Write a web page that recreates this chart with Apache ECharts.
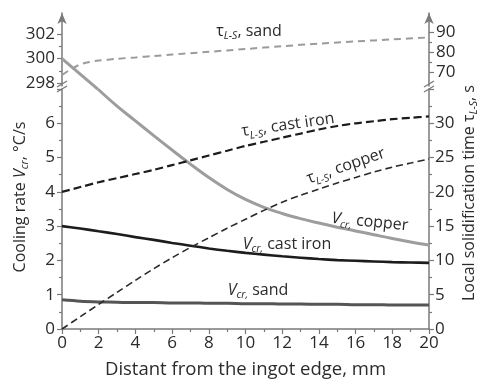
<!DOCTYPE html>
<html><head><meta charset="utf-8">
<script src="https://cdn.jsdelivr.net/npm/echarts@6/dist/echarts.min.js"></script>
<style>html,body{margin:0;padding:0;background:#fff}#c{width:482px;height:384px}</style>
</head><body><div id="c"></div>
<script>
// ---- data ----
const distance = [0,1,2,3,4,5,6,7,8,9,10,11,12,13,14,15,16,17,18,19,20];
const vcCastIron = [3.0,2.93,2.85,2.77,2.68,2.6,2.51,2.43,2.35,2.28,2.22,2.17,2.12,2.08,2.04,2.01,1.99,1.97,1.95,1.94,1.93];
const vcSand = [0.85,0.81,0.79,0.78,0.77,0.77,0.76,0.76,0.75,0.75,0.74,0.74,0.73,0.73,0.72,0.72,0.71,0.71,0.70,0.70,0.70];
const tauCastIron = [20,20.7,21.4,22.0,22.6,23.2,23.9,24.6,25.3,26.0,26.7,27.3,27.9,28.5,29.1,29.6,30.0,30.3,30.6,30.8,31.0];
const tauCopper = [0,1.8,3.6,5.35,7.1,8.8,10.4,11.9,13.3,14.7,16.0,17.3,18.5,19.5,20.4,21.3,22.1,22.9,23.6,24.2,24.8];
const vcCopperUpperX = [0,1.95];
const vcCopperUpper = [300,297.51];
const vcCopperLowerX = [1.95,3,4,5,6,7,8,9,10,11,12,13,14,15,16,17,18,19,20];
const vcCopperLower = [7.0,6.5,6.07,5.64,5.22,4.81,4.42,4.07,3.78,3.55,3.37,3.22,3.09,2.97,2.86,2.75,2.64,2.54,2.45];
const tauSandX = [0,0.5,1,1.5,2,3,4,5,6,8,10,12,14,16,18,20];
const tauSand = [68.5,71.5,73.8,75.0,75.7,76.6,77.3,78.0,78.7,80.1,81.5,82.9,84.2,85.3,86.3,87.3];
const upperLeftTicks = [298,300,302];
const upperLeftMinor = [299,301];
const upperRightTicks = [70,80,90];
const upperRightMinor = [75,85];

const pair = (xs, ys) => xs.map((x, i) => [x, ys[i]]);
const FONT = '"Open Sans", "Noto Sans", sans-serif';
const AX = '#7a7a7a', TXT = '#2b2b2b';
const lineAx = { show: true, lineStyle: { color: AX, width: 1.5 } };
const lbl = { color: TXT, fontSize: 17, fontFamily: FONT };

const chart = echarts.init(document.getElementById('c'), null, { renderer: 'canvas' });

const G = { top: 13, hTop: 73, top2: 89, h2: 243, left: 62, right: 53 };

function upperAxis(pos, min, max, labels, ticks, showLine, tickLen, symbol) {
  return {
    gridIndex: 0, type: 'value', position: pos, min, max,
    axisLine: showLine ? { show: true, symbol: symbol, symbolSize: [7, 11], lineStyle: { color: AX, width: 1.5 } } : { show: false },
    axisTick: { show: true, inside: false, length: tickLen, lineStyle: { color: AX, width: 1.2 }, customValues: ticks },
    axisLabel: labels ? Object.assign({ customValues: labels, margin: 7 }, lbl) : { show: false },
    splitLine: { show: false }
  };
}

const rich = {
  g: { fontSize: 16, fontFamily: FONT, fill: TXT, lineHeight: 22, verticalAlign: 'middle' },
  i: { fontSize: 16, fontFamily: FONT, fontStyle: 'italic', fill: TXT, lineHeight: 22, verticalAlign: 'middle' },
  s: { fontSize: 10.5, fontFamily: FONT, fontStyle: 'italic', fill: TXT, lineHeight: 14, verticalAlign: 'bottom' },
  t: { fontSize: 16, fontFamily: FONT, fill: TXT, lineHeight: 22, verticalAlign: 'middle' }
};
function label(x, y, text, rot) {
  return { type: 'text', x, y, rotation: rot || 0, z: 100,
    style: { text, rich, align: 'center', verticalAlign: 'middle', fill: TXT, font: '16px ' + FONT } };
}
function brk(x, y) {
  return [
    { type: 'line', z: 100, shape: { x1: x - 5, y1: y + 1, x2: x + 5, y2: y - 5 }, style: { stroke: AX, lineWidth: 1.4 } },
    { type: 'line', z: 100, shape: { x1: x - 5, y1: y + 6, x2: x + 5, y2: y }, style: { stroke: AX, lineWidth: 1.4 } }
  ];
}

const option = {
  animation: false,
  backgroundColor: '#fff',
  grid: [
    { left: G.left, right: G.right, top: G.top, height: G.hTop },
    { left: G.left, right: G.right, top: G.top2, height: G.h2 }
  ],
  xAxis: [
    { gridIndex: 0, type: 'value', min: 0, max: 20, show: false },
    { gridIndex: 1, type: 'value', min: 0, max: 20, interval: 2,
      axisLine: Object.assign({ onZero: false }, lineAx),
      axisTick: { show: true, length: 5, lineStyle: { color: AX, width: 1.2 } },
      minorTick: { show: true, splitNumber: 2, length: 3, lineStyle: { color: AX, width: 1.2 } },
      axisLabel: Object.assign({ margin: 6 }, lbl),
      splitLine: { show: false },
      name: 'Distant from the ingot edge, mm', nameLocation: 'middle', nameGap: 31,
      nameTextStyle: { color: TXT, fontSize: 18.5, fontFamily: FONT } }
  ],
  yAxis: [
    upperAxis('left', 297.76, 303.71, upperLeftTicks, upperLeftTicks, true, 5, ['none', 'arrow']),
    upperAxis('right', 63, 99.5, upperRightTicks, upperRightTicks, true, 5, ['none', 'arrow']),
    { gridIndex: 1, type: 'value', position: 'left', min: 0, max: 7, interval: 1,
      axisLine: lineAx,
      axisTick: { show: true, length: 5, lineStyle: { color: AX, width: 1.2 } },
      minorTick: { show: true, splitNumber: 2, length: 3, lineStyle: { color: AX, width: 1.2 } },
      axisLabel: Object.assign({ margin: 7, formatter: v => (v >= 7 ? '' : String(v)) }, lbl),
      splitLine: { show: false } },
    { gridIndex: 1, type: 'value', position: 'right', min: 0, max: 35, interval: 5,
      axisLine: lineAx,
      axisTick: { show: true, length: 5, lineStyle: { color: AX, width: 1.2 } },
      minorTick: { show: true, splitNumber: 2, length: 3, lineStyle: { color: AX, width: 1.2 } },
      axisLabel: Object.assign({ margin: 6, formatter: v => (v >= 35 ? '' : String(v)) }, lbl),
      splitLine: { show: false } },
    upperAxis('left', 297.76, 303.71, null, upperLeftMinor, false, 3),
    upperAxis('right', 63, 99.5, null, upperRightMinor, false, 3)
  ],
  series: [
    { name: 'tau sand', type: 'line', xAxisIndex: 0, yAxisIndex: 1, data: pair(tauSandX, tauSand),
      symbol: 'none', smooth: 0.3, lineStyle: { color: '#9b9b9b', width: 2, type: [7, 5] } },
    { name: 'Vcr copper upper', type: 'line', xAxisIndex: 0, yAxisIndex: 0, data: pair(vcCopperUpperX, vcCopperUpper),
      symbol: 'none', clip: false, lineStyle: { color: '#9d9d9d', width: 3 } },
    { name: 'Vcr copper', type: 'line', xAxisIndex: 1, yAxisIndex: 2, data: pair(vcCopperLowerX, vcCopperLower),
      symbol: 'none', smooth: 0.4, lineStyle: { color: '#9d9d9d', width: 3 } },
    { name: 'Vcr cast iron', type: 'line', xAxisIndex: 1, yAxisIndex: 2, data: pair(distance, vcCastIron),
      symbol: 'none', smooth: 0.3, lineStyle: { color: '#1c1c1c', width: 2.6 } },
    { name: 'Vcr sand', type: 'line', xAxisIndex: 1, yAxisIndex: 2, data: pair(distance, vcSand),
      symbol: 'none', smooth: 0.3, lineStyle: { color: '#555555', width: 3 } },
    { name: 'tau cast iron', type: 'line', xAxisIndex: 1, yAxisIndex: 3, data: pair(distance, tauCastIron),
      symbol: 'none', smooth: 0.3, lineStyle: { color: '#1c1c1c', width: 2.2, type: [8, 4] } },
    { name: 'tau copper', type: 'line', xAxisIndex: 1, yAxisIndex: 3, data: pair(distance, tauCopper),
      symbol: 'none', smooth: 0.3, lineStyle: { color: '#2a2a2a', width: 1.6, type: [7, 4] } }
  ],
  graphic: [
    ...brk(62, 86), ...brk(429, 86),
    { type: 'text', x: 20, y: 197, rotation: Math.PI / 2, z: 100,
      style: { text: '{t|Cooling rate }{i|V}{s|cr}{t|, °C/s}', rich, align: 'center', verticalAlign: 'middle', fill: TXT } },
    { type: 'text', x: 469, y: 193, rotation: Math.PI / 2, z: 100,
      style: { text: '{t|Local solidification time τ}{s|L-S}{t|, s}', rich, align: 'center', verticalAlign: 'middle', fill: TXT } },
    label(249, 31, '{g|τ}{s|L-S}{g|, sand}', 0),
    label(288, 125, '{g|τ}{s|L-S}{g|, cast iron}', 0.14),
    label(346, 166, '{g|τ}{s|L-S}{g|, copper}', 0.33),
    label(370, 222, '{i|V}{s|cr,}{g| copper}', -0.1),
    label(287, 244, '{i|V}{s|cr,}{g| cast iron}', 0),
    label(258, 290, '{i|V}{s|cr,}{g| sand}', 0)
  ]
};
chart.setOption(option);
</script></body></html>
